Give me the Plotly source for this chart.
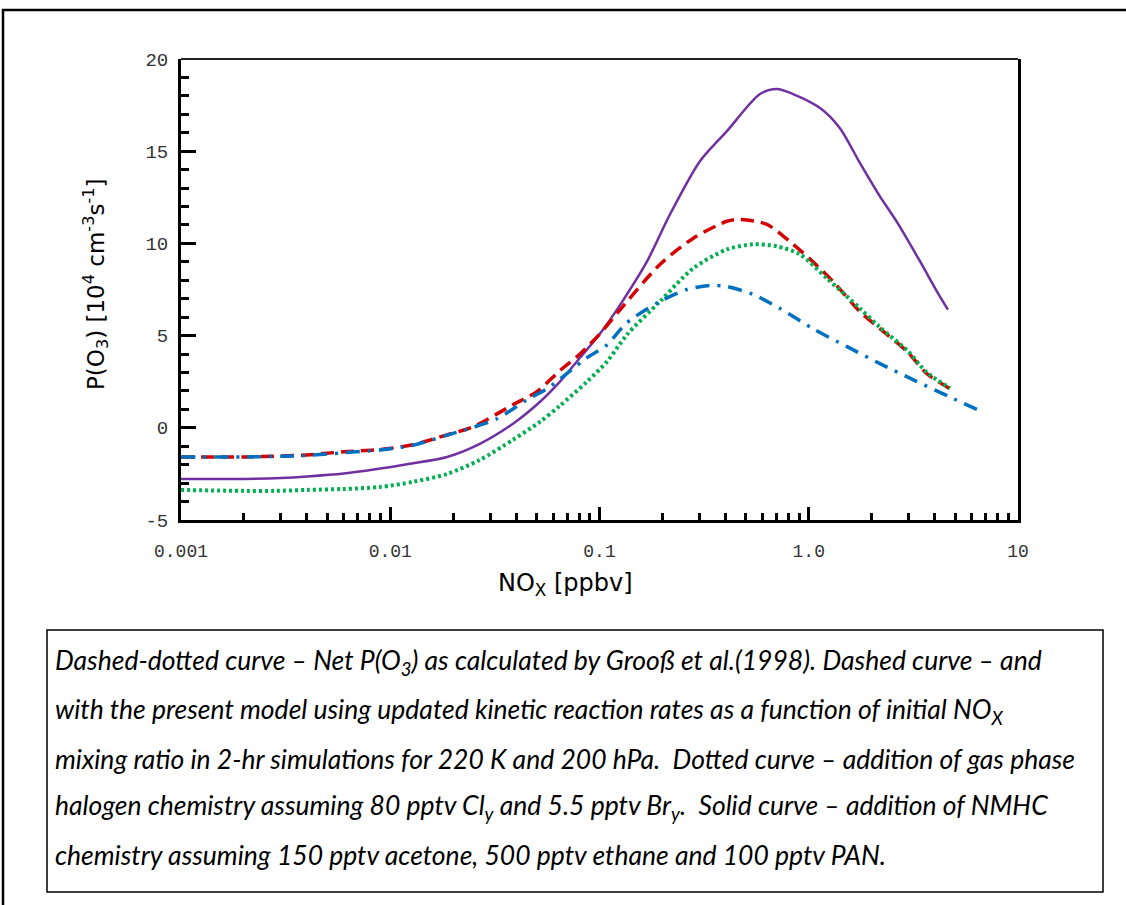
import plotly.graph_objects as go

# ---------------- data ----------------
nox_grooss = [0.001, 0.002, 0.004, 0.006, 0.0089, 0.0128, 0.0187, 0.0248, 0.0324, 0.045,
              0.0561, 0.070, 0.0871, 0.1086, 0.1352, 0.1945, 0.2618, 0.3373, 0.4064,
              0.542, 0.7295, 1.047, 1.524, 2.188, 3.148, 4.581, 6.73]
po3_grooss = [-1.58, -1.58, -1.50, -1.35, -1.20, -0.95, -0.40, 0.02, 0.49, 1.52,
              2.12, 2.95, 3.80, 4.50, 5.70, 6.85, 7.50, 7.72, 7.66,
              7.23, 6.47, 5.38, 4.40, 3.48, 2.61, 1.74, 0.87]

nox_present = [0.001, 0.002, 0.004, 0.006, 0.0089, 0.0128, 0.0187, 0.0248, 0.0386, 0.0502,
               0.0647, 0.0807, 0.1005, 0.1253, 0.1945, 0.2799, 0.4064, 0.4688, 0.631,
               0.8414, 1.047, 1.306, 1.758, 2.188, 2.951, 3.673, 4.732]
po3_present = [-1.58, -1.58, -1.47, -1.30, -1.18, -0.92, -0.38, 0.05, 1.25, 1.96,
               3.10, 4.00, 5.10, 6.40, 8.86, 10.27, 11.20, 11.30, 11.03,
               9.95, 9.00, 7.93, 6.30, 5.38, 4.13, 2.93, 2.12]

nox_halogen = [0.001, 0.002, 0.0028, 0.004, 0.0059, 0.0089, 0.01285, 0.0187, 0.0268, 0.0386,
               0.052, 0.0647, 0.0871, 0.1086, 0.1352, 0.1945, 0.2799, 0.4064, 0.542,
               0.7047, 0.9078, 1.222, 1.758, 2.188, 2.951, 3.673, 4.732]
po3_halogen = [-3.37, -3.42, -3.42, -3.37, -3.32, -3.21, -2.93, -2.50, -1.74, -0.65,
               0.33, 1.20, 2.50, 3.59, 5.05, 6.85, 8.64, 9.67, 9.95,
               9.84, 9.40, 8.10, 6.47, 5.45, 4.20, 3.00, 2.15]

nox_nmhc = [0.001, 0.002, 0.003, 0.004, 0.006, 0.0085, 0.0122, 0.0187, 0.0268,
            0.0386, 0.052, 0.0647, 0.0807, 0.1005, 0.1294, 0.1687, 0.2173, 0.302, 0.4064,
            0.5848, 0.7047, 0.8414, 1.132, 1.409, 1.758, 2.188, 2.642, 3.404, 4.102, 4.624]
po3_nmhc = [-2.77, -2.77, -2.72, -2.64, -2.48, -2.25, -1.96, -1.58, -0.87,
            0.22, 1.41, 2.50, 3.80, 5.10, 6.90, 9.02, 11.58, 14.46, 16.09,
            18.10, 18.37, 18.10, 17.34, 16.25, 14.35, 12.55, 11.15, 9.02, 7.39, 6.41]

x_tickvals = [0.001, 0.01, 0.1, 1.0, 10]
x_ticktext = ["0.001", "0.01", "0.1", "1.0", "10"]
y_tickvals = [-5, 0, 5, 10, 15, 20]
y_ticktext = ["-5", "0", "5", "10", "15", "20"]

caption_lines = [
    "Dashed-dotted curve \u2013 Net P(O<sub>3</sub>) as calculated by Groo\u00df et al.(1998). Dashed curve \u2013 and",
    "with the present model using updated kinetic reaction rates as a function of initial NO<sub>X</sub>",
    "mixing ratio in 2-hr simulations for 220 K and 200 hPa.  Dotted curve \u2013 addition of gas phase",
    "halogen chemistry assuming 80 pptv Cl<sub>y</sub> and 5.5 pptv Br<sub>y</sub>.  Solid curve \u2013 addition of NMHC",
    "chemistry assuming 150 pptv acetone, 500 pptv ethane and 100 pptv PAN.",
]

# ---------------- figure ----------------
W, H = 1126, 905
L, R, T, B = 181, 1018, 59, 520


def xp(px):
    return (px - L) / (R - L)


def yp(py):
    return (B - py) / (B - T)


fig = go.Figure()
fig.add_trace(go.Scatter(x=nox_nmhc, y=po3_nmhc, mode="lines", line_shape="spline",
                         line=dict(color="#7030A0", width=2.5, smoothing=0.8), name="NMHC"))
fig.add_trace(go.Scatter(x=nox_present, y=po3_present, mode="lines", line_shape="spline",
                         line=dict(color="#D40000", width=3.5, dash="13px,7px", smoothing=0.8),
                         name="present"))
fig.add_trace(go.Scatter(x=nox_halogen, y=po3_halogen, mode="lines", line_shape="spline",
                         line=dict(color="#00B050", width=4, dash="3px,3px", smoothing=0.8),
                         name="halogen"))
fig.add_trace(go.Scatter(x=nox_grooss, y=po3_grooss, mode="lines", line_shape="spline",
                         line=dict(color="#0070C0", width=3.5, dash="14px,8px,3px,8px", smoothing=0.8),
                         name="Grooss"))

tickfont = dict(family="Liberation Mono", size=18, color="#333333")

fig.update_layout(
    width=W, height=H,
    margin=dict(l=L, r=W - R, t=T, b=H - B),
    paper_bgcolor="white", plot_bgcolor="white",
    showlegend=False,
    xaxis=dict(type="log", range=[-3, 1], showgrid=False, zeroline=False,
               showline=True, linecolor="black", linewidth=3, mirror=False,
               ticks="inside", ticklen=13, tickwidth=3, tickcolor="black",
               tickvals=x_tickvals, ticktext=x_ticktext, tickfont=tickfont,
               ticklabelstandoff=12,
               minor=dict(ticks="inside", ticklen=7, tickwidth=3, tickcolor="black",
                          dtick="D1", showgrid=False)),
    yaxis=dict(range=[-5, 20], showgrid=False, zeroline=False,
               showline=True, linecolor="black", linewidth=3, mirror=True,
               ticks="inside", ticklen=15, tickwidth=3, tickcolor="black",
               tickvals=y_tickvals, ticktext=y_ticktext,
               tickfont=dict(family="Liberation Mono", size=19, color="#333333"),
               ticklabelstandoff=6,
               minor=dict(ticks="inside", ticklen=8, tickwidth=3, tickcolor="black",
                          dtick=1, showgrid=False)),
)

# top border of plot box
fig.add_shape(type="line", xref="paper", yref="paper", x0=0, x1=1, y0=1, y1=1,
              line=dict(color="#222222", width=2))

# axis titles
fig.add_annotation(xref="paper", yref="paper", x=xp(565), y=yp(584),
                   text="NO<sub>X</sub> [ppbv]", showarrow=False,
                   font=dict(family="DejaVu Sans", size=24, color="black"),
                   xanchor="center", yanchor="middle")
fig.add_annotation(xref="paper", yref="paper", x=xp(95), y=yp(285),
                   text="P(O<sub>3</sub>) [10<sup>4</sup> cm<sup>-3</sup>s<sup>-1</sup>]",
                   textangle=-90, showarrow=False,
                   font=dict(family="DejaVu Sans", size=23, color="black"),
                   xanchor="center", yanchor="middle")

# outer frame
fig.add_shape(type="rect", xref="paper", yref="paper",
              x0=xp(3), x1=xp(1140), y0=yp(10), y1=yp(920),
              line=dict(color="black", width=2.5), fillcolor="rgba(0,0,0,0)", layer="above")
# caption box
fig.add_shape(type="rect", xref="paper", yref="paper",
              x0=xp(47), x1=xp(1103), y0=yp(630), y1=yp(892),
              line=dict(color="black", width=1.5), fillcolor="rgba(0,0,0,0)")

line_y = [662, 711, 759, 807, 855]
for txt, ly in zip(caption_lines, line_y):
    fig.add_annotation(xref="paper", yref="paper", x=xp(53), y=yp(ly),
                       text="<i>" + txt + "</i>", showarrow=False,
                       font=dict(family="Lato", size=26.5, color="black"),
                       xanchor="left", yanchor="middle")

fig.write_html("out.html")
